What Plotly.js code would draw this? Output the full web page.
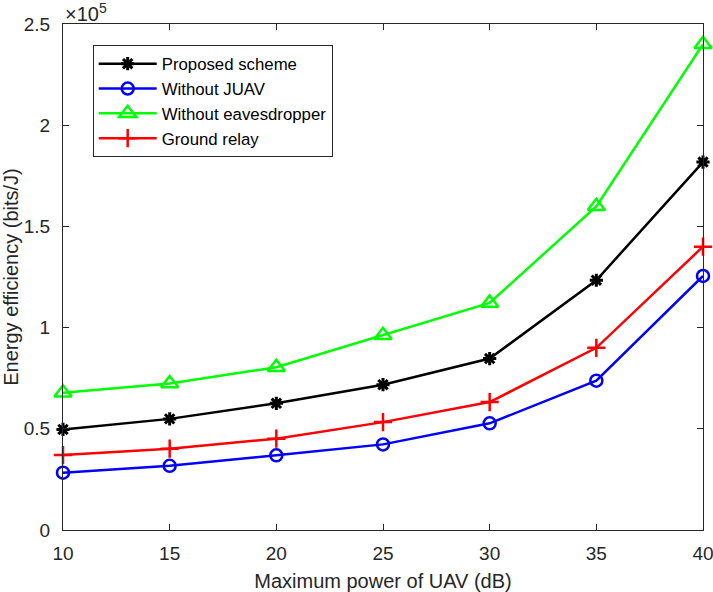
<!DOCTYPE html>
<html>
<head>
<meta charset="utf-8">
<script src="https://cdn.plot.ly/plotly-3.0.1.min.js"></script>
<style>html,body{margin:0;padding:0;background:#fff;}#chart{width:713px;height:592px;}</style>
</head>
<body>
<div id="chart"></div>
<script>
const powerDb = [10, 15, 20, 25, 30, 35, 40];
const proposedScheme = [49700, 54900, 62600, 71800, 84700, 123400, 181800];
const withoutJUAV = [28300, 31700, 36900, 42300, 52700, 73800, 125500];
const withoutEavesdropper = [67800, 72400, 80400, 96200, 112200, 159900, 240000];
const groundRelay = [37000, 40200, 45100, 53300, 63200, 90000, 140000];
const yTickVals = [0, 50000, 100000, 150000, 200000, 250000];
const yTickText = ['0', '0.5', '1', '1.5', '2', '2.5'];
const xTickVals = [10, 15, 20, 25, 30, 35, 40];

const axisColor = '#262626';
const fontFam = 'Liberation Sans, Arial, Helvetica, sans-serif';

function tr(name, y, color, symbol, size, mlw) {
  return {
    x: powerDb, y: y, name: name, type: 'scatter', mode: 'lines+markers',
    line: {color: color, width: 2.5},
    marker: {symbol: symbol, size: size, color: color, line: {color: color, width: mlw}},
    cliponaxis: false
  };
}

const data = [
  tr('Proposed scheme', proposedScheme, '#000000', 'asterisk-open', 11, 3),
  tr('Without JUAV', withoutJUAV, '#0000FF', 'circle-open', 12, 2.5),
  tr('Without eavesdropper', withoutEavesdropper, '#00FF00', 'triangle-up-open', 15, 2.5),
  tr('Ground relay', groundRelay, '#FF0000', 'cross-thin-open', 13, 2.5)
];

const layout = {
  width: 713, height: 592,
  margin: {l: 63, r: 10, t: 24, b: 62},
  paper_bgcolor: '#ffffff', plot_bgcolor: '#ffffff',
  font: {family: fontFam, size: 19, color: axisColor},
  showlegend: true,
  legend: {
    x: 0.0464, y: 0.958, xanchor: 'left', yanchor: 'top',
    bgcolor: '#ffffff', bordercolor: axisColor, borderwidth: 1,
    font: {family: fontFam, size: 16.8, color: '#000000'},
    itemwidth: 58, tracegroupgap: 0
  },
  xaxis: {
    range: [10, 40], tickvals: xTickVals, ticktext: xTickVals.map(String),
    showgrid: false, zeroline: false, showline: true, linecolor: axisColor, linewidth: 1,
    mirror: 'ticks', ticks: 'inside', ticklen: 6, tickcolor: axisColor, tickwidth: 1,
    tickfont: {size: 19, color: axisColor}, ticklabelstandoff: 6, ticklabeloverflow: 'allow',
    title: {text: 'Maximum power of UAV (dB)', font: {size: 20, color: axisColor}, standoff: 12}
  },
  yaxis: {
    range: [0, 250000], tickvals: yTickVals, ticktext: yTickText,
    showgrid: false, zeroline: false, showline: true, linecolor: axisColor, linewidth: 1,
    mirror: 'ticks', ticks: 'inside', ticklen: 6, tickcolor: axisColor, tickwidth: 1,
    tickfont: {size: 19, color: axisColor}, ticklabelstandoff: 8, ticklabeloverflow: 'allow',
    title: {text: 'Energy efficiency (bits/J)', font: {size: 20, color: axisColor}, standoff: 6}
  },
  annotations: [{
    xref: 'paper', yref: 'paper', x: 0, y: 1, xanchor: 'left', yanchor: 'bottom',
    text: '×10<sup>5</sup>', showarrow: false, font: {size: 20, color: axisColor}, xshift: 0, yshift: -3
  }]
};

Plotly.newPlot('chart', data, layout, {displayModeBar: false, staticPlot: true});
</script>
</body>
</html>
